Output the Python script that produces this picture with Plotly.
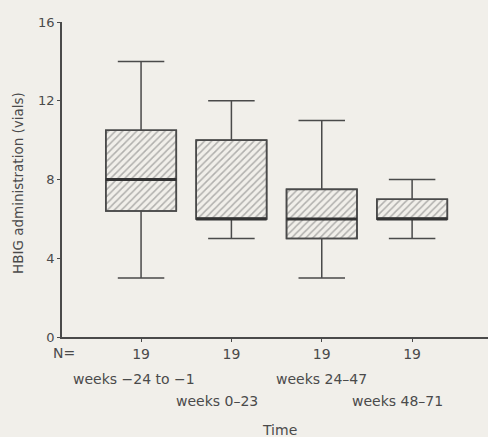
import plotly.graph_objects as go

periods = ["weeks \u221224 to \u22121", "weeks 0\u201323", "weeks 24\u201347", "weeks 48\u201371"]
n_counts = [19, 19, 19, 19]
lower = [3, 5, 3, 5]
q1 = [6.4, 6, 5, 6]
median = [8, 6, 6, 6]
q3 = [10.5, 10, 7.5, 7]
upper = [14, 12, 11, 8]
y_ticks = [0, 4, 8, 12, 16]

pos = list(range(len(periods)))
bw = 0.78
bg = "#f1efea"
ink = "#4a4a4a"
font = "DejaVu Sans, Arial, sans-serif"

fig = go.Figure()
fig.add_trace(go.Bar(
    x=pos, base=q1, y=[b - a for a, b in zip(q1, q3)], width=bw,
    marker=dict(color=bg, line=dict(color=ink, width=1.6),
                pattern=dict(shape="/", fgcolor="#707070", bgcolor=bg, size=5, solidity=0.3)),
    hoverinfo="skip", showlegend=False))
fig.add_trace(go.Box(
    x=pos, q1=q1, median=median, q3=q3, lowerfence=lower, upperfence=upper,
    width=bw, whiskerwidth=0.66, fillcolor="rgba(0,0,0,0)",
    line=dict(color=ink, width=1.5), boxpoints=False, hoverinfo="skip", showlegend=False))
mx, my = [], []
for p, m in zip(pos, median):
    mx += [p - bw / 2, p + bw / 2, None]
    my += [m, m, None]
fig.add_trace(go.Scatter(x=mx, y=my, mode="lines", line=dict(color="#333", width=3),
                         hoverinfo="skip", showlegend=False))

fig.update_layout(
    width=488, height=437, paper_bgcolor=bg, plot_bgcolor=bg,
    margin=dict(l=62, r=0, t=22, b=100),
    font=dict(family=font, color=ink, size=13),
    barmode="overlay",
    xaxis=dict(range=[-0.875, 3.84], tickvals=pos, ticktext=[str(n) for n in n_counts],
               showline=True, linecolor=ink, linewidth=2, ticks="outside", ticklen=3,
               tickcolor=ink, showgrid=False, zeroline=False, tickfont=dict(size=14)),
    yaxis=dict(range=[0, 16], tickvals=y_ticks, showline=True, linecolor=ink, linewidth=1.5,
               ticks="outside", ticklen=3, tickcolor=ink, showgrid=False, zeroline=False,
               tickfont=dict(size=13)),
)

anns = [dict(text="N=", x=64, y=353), dict(text="Time", x=279, y=430)]
for i, (lab, xs) in enumerate(zip(periods, [-7, -14, 0, -15])):
    anns.append(dict(text=lab, xref="x", x=pos[i], xshift=xs,
                     y=379 if i % 2 == 0 else 401))
out = []
for a in anns:
    d = dict(showarrow=False, yref="paper", font=dict(size=14, color=ink, family=font),
             xanchor="center", yanchor="middle")
    px_y = a.pop("y")
    d["y"] = (337 - px_y) / 315
    if "xref" not in a:
        d["xref"] = "paper"
        a["x"] = (a["x"] - 62) / 426
    d.update(a)
    out.append(d)
out.append(dict(text="HBIG administration (vials)", textangle=-90, showarrow=False,
                xref="paper", yref="paper", x=(18 - 62) / 426, y=(337 - 183) / 315,
                xanchor="center", yanchor="middle", font=dict(size=13.5, color=ink, family=font)))
fig.update_layout(annotations=out)
fig.write_html("out.html")
